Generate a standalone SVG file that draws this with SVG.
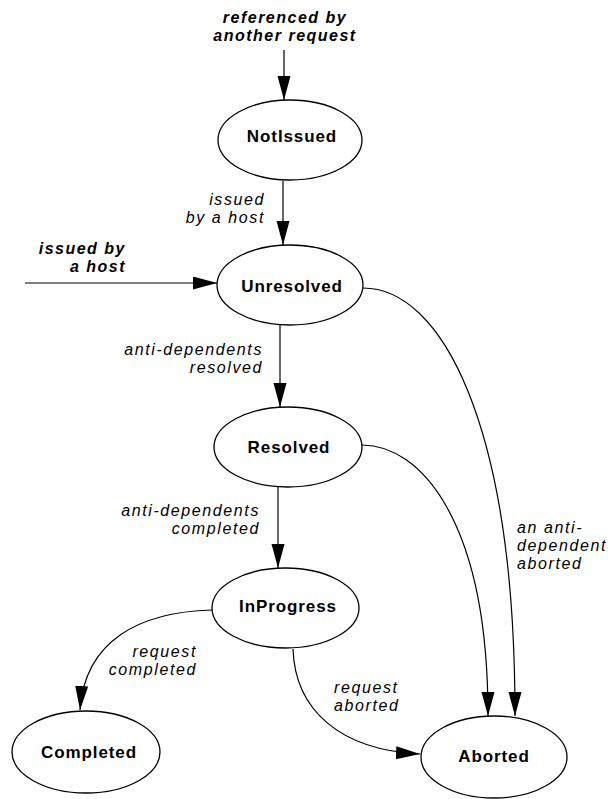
<svg xmlns="http://www.w3.org/2000/svg" width="608" height="799" viewBox="0 0 608 799">
<style>
.node ellipse{fill:#fff;stroke:#000;stroke-width:1.3}
.node text{font-family:"Liberation Sans",Arial,sans-serif;font-weight:bold;font-size:17px;letter-spacing:0.9px;text-anchor:middle;fill:#000}
.edges path,.edges line{fill:none;stroke:#000;stroke-width:1.2;marker-end:url(#arr)}
.lbl{font-family:"Liberation Sans",Arial,sans-serif;font-style:italic;font-size:16px;letter-spacing:1.6px;fill:#000}
.blbl{font-family:"Liberation Sans",Arial,sans-serif;font-style:italic;font-weight:bold;font-size:16px;letter-spacing:1.5px;fill:#000}
</style>
<defs>
<marker id="arr" markerUnits="userSpaceOnUse" markerWidth="26" markerHeight="14" refX="24" refY="6.5" orient="auto">
<path d="M0,0 L24,6.5 L0,13 Z" fill="#000"/>
</marker>
</defs>
<rect width="608" height="799" fill="#fff"/>
<g class="edges" id="connectors">
<line x1="284" y1="50" x2="284" y2="100"/>
<line x1="283" y1="181" x2="283" y2="245"/>
<line x1="25" y1="283" x2="217" y2="283"/>
<line x1="280" y1="325" x2="280" y2="407"/>
<line x1="278" y1="487" x2="278" y2="568"/>
<path d="M212,610 C140,612 85,640 80,710"/>
<path d="M293,649 C295,710 340,750 420,754"/>
<path d="M362,445 C420,445 488,520 488,716"/>
<path d="M363,288 C440,288 515,420 515,716"/>
</g>
<g id="labels">
<text class="blbl" x="285" y="23" text-anchor="middle">referenced by</text>
<text class="blbl" x="285" y="41" text-anchor="middle">another request</text>
<text class="lbl" x="265" y="205" text-anchor="end">issued</text>
<text class="lbl" x="265" y="223" text-anchor="end">by a host</text>
<text class="blbl" x="126" y="254" text-anchor="end">issued by</text>
<text class="blbl" x="126" y="272" text-anchor="end">a host</text>
<text class="lbl" x="263" y="355" text-anchor="end">anti-dependents</text>
<text class="lbl" x="263" y="373" text-anchor="end">resolved</text>
<text class="lbl" x="260" y="516" text-anchor="end">anti-dependents</text>
<text class="lbl" x="260" y="534" text-anchor="end">completed</text>
<text class="lbl" x="197" y="657" text-anchor="end">request</text>
<text class="lbl" x="197" y="675" text-anchor="end">completed</text>
<text class="lbl" x="334" y="693">request</text>
<text class="lbl" x="334" y="711">aborted</text>
<text class="lbl" x="517" y="533">an anti-</text>
<text class="lbl" x="517" y="551">dependent</text>
<text class="lbl" x="517" y="569">aborted</text>
</g>
<g class="node" id="NotIssued"><ellipse cx="290" cy="140" rx="72" ry="40"/><text x="292" y="142">NotIssued</text></g>
<g class="node" id="Unresolved"><ellipse cx="290" cy="285" rx="73" ry="40"/><text x="292" y="292">Unresolved</text></g>
<g class="node" id="Resolved"><ellipse cx="288" cy="447" rx="74" ry="40"/><text x="289" y="453">Resolved</text></g>
<g class="node" id="InProgress"><ellipse cx="285.5" cy="608" rx="73.5" ry="40"/><text x="288" y="612">InProgress</text></g>
<g class="node" id="Completed"><ellipse cx="86" cy="752" rx="74" ry="41"/><text x="89" y="758">Completed</text></g>
<g class="node" id="Aborted"><ellipse cx="494" cy="757" rx="73" ry="41"/><text x="494" y="762">Aborted</text></g>
</svg>
